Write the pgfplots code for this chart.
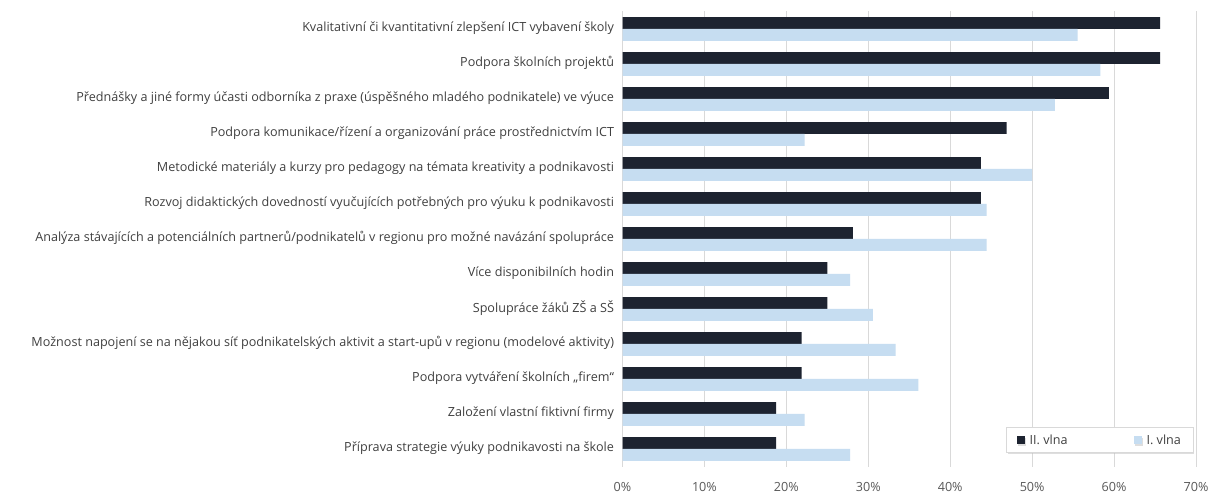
\documentclass[border=0pt]{standalone}
\usepackage{fontspec}
\setmainfont{Open Sans}
\usepackage{pgfplots}
\pgfplotsset{compat=1.18}
\usetikzlibrary{shadows}
\definecolor{darkbar}{HTML}{1D2330}
\definecolor{lightbar}{HTML}{C6DDF1}
\definecolor{txt}{HTML}{404040}
\definecolor{gridc}{HTML}{D9D9D9}
\begin{document}
\begin{tikzpicture}
\useasboundingbox (0,0) rectangle (1208bp,494bp);
\fill[white] (0,0) rectangle (1208bp,494bp);
\begin{axis}[
  at={(622.5bp,27.5bp)}, anchor=south west,
  scale only axis, width=573.5bp, height=455bp,
  xbar, bar width=11.8bp,
  xmin=0, xmax=70, ymin=-0.5, ymax=12.5,
  xtick={0,10,...,70},
  xticklabel={\pgfmathprintnumber{\tick}\%},
  ytick={0,...,12},
  yticklabels={
    Příprava strategie výuky podnikavosti na škole,
    Založení vlastní fiktivní firmy,
    Podpora vytváření školních „firem“,
    Možnost napojení se na nějakou síť podnikatelských aktivit a start-upů v regionu (modelové aktivity),
    Spolupráce žáků ZŠ a SŠ,
    Více disponibilních hodin,
    Analýza stávajících a potenciálních partnerů/podnikatelů v regionu pro možné navázání spolupráce,
    Rozvoj didaktických dovedností vyučujících potřebných pro výuku k podnikavosti,
    Metodické materiály a kurzy pro pedagogy na témata kreativity a podnikavosti,
    Podpora komunikace/řízení a organizování práce prostřednictvím ICT,
    Přednášky a jiné formy účasti odborníka z praxe (úspěšného mladého podnikatele) ve výuce,
    Podpora školních projektů,
    Kvalitativní či kvantitativní zlepšení ICT vybavení školy},
  major tick length=0pt,
  axis line style={draw=none},
  xmajorgrids, major grid style={gridc, line width=0.8bp},
  /pgf/number format/assume math mode=true,
  tick label style={font=\fontsize{12.6bp}{14bp}\selectfont, text=txt},
  xticklabel style={text=black!65, yshift=-12bp},
  yticklabel style={xshift=-5bp, yshift=1bp},
  legend columns=2,
  legend style={at={(0.995,0.03)}, anchor=south east, draw=gridc, fill=white,
    drop shadow={shadow xshift=1.5bp, shadow yshift=-1.5bp, fill=black!25},
    font=\fontsize{12.6bp}{14bp}\selectfont, text=txt,
    inner xsep=10bp, inner ysep=5bp,
    /tikz/every odd column/.append style={column sep=3bp},
    /tikz/every even column/.append style={column sep=64bp}},
  legend image code/.code={\fill[#1] (0bp,-4bp) rectangle (8bp,4bp);},
]
\addplot[fill=darkbar, draw=none, bar shift=5.9bp] coordinates {
 (18.75,0) (18.75,1) (21.875,2) (21.875,3) (25,4) (25,5) (28.125,6)
 (43.75,7) (43.75,8) (46.875,9) (59.375,10) (65.625,11) (65.625,12)};
\addlegendentry{II. vlna}
\addplot[fill=lightbar, draw=none, bar shift=-5.9bp] coordinates {
 (27.78,0) (22.22,1) (36.11,2) (33.33,3) (30.56,4) (27.78,5) (44.44,6)
 (44.44,7) (50,8) (22.22,9) (52.78,10) (58.33,11) (55.56,12)};
\addlegendentry{I. vlna}
\end{axis}
\end{tikzpicture}
\end{document}
